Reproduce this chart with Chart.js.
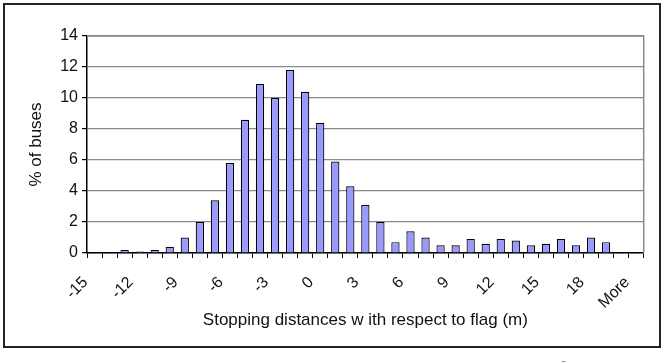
<!DOCTYPE html>
<html>
<head>
<meta charset="utf-8">
<script src="https://cdn.jsdelivr.net/npm/chart.js@4/dist/chart.umd.min.js"></script>
<style>
  html, body { margin: 0; padding: 0; background: #fff; overflow: hidden; }
  #wrap { position: absolute; left: 0; top: 0; width: 665px; height: 347px; }
  #frame {
    position: absolute; left: 3px; top: 3px; width: 654px; height: 341px;
    border: 2px solid #222; pointer-events: none;
  }
  #caption {
    position: absolute; left: 127px; top: 356px; line-height: 1;
    font: italic 22px "Liberation Serif", serif; color: #888; white-space: nowrap;
  }
</style>
</head>
<body>
<div id="wrap"><canvas id="chart" width="665" height="347"></canvas></div>
<div id="frame"></div>
<div id="caption">Figure 6: Bus stopping distances with respect to flag</div>
<script>
// Histogram bins (m), last bin is "More"
const bins = ["-15","-14","-13","-12","-11","-10","-9","-8","-7","-6","-5","-4","-3","-2","-1",
  "0","1","2","3","4","5","6","7","8","9","10","11","12","13","14","15","16","17","18","19","20","More"];

// % of buses per bin
const percentBuses = [0, 0, 0.2, 0.1, 0.2, 0.4, 1.0, 2.0, 3.4, 5.8, 8.6, 10.9, 10.0, 11.8, 10.4,
  8.4, 5.9, 4.3, 3.1, 2.0, 0.7, 1.4, 1.0, 0.5, 0.5, 0.9, 0.6, 0.9, 0.8, 0.5, 0.6, 0.9, 0.5, 1.0, 0.7, 0, 0];

const yTicks = [0, 2, 4, 6, 8, 10, 12, 14];

const FONT = "'Liberation Sans', Arial, sans-serif";

// gray frame on top and right of plot area (Excel style)
const plotFrame = {
  id: "plotFrame",
  beforeDatasetsDraw(chart) {
    const { ctx, chartArea: a } = chart;
    ctx.save();
    ctx.strokeStyle = "#8a8a8a";
    ctx.lineWidth = 1.5;
    ctx.beginPath();
    ctx.moveTo(a.left, a.top);
    ctx.lineTo(a.right, a.top);
    ctx.lineTo(a.right, a.bottom);
    ctx.stroke();
    ctx.restore();
  },
};

new Chart(document.getElementById("chart"), {
  type: "bar",
  data: {
    labels: bins,
    datasets: [{
      data: percentBuses,
      backgroundColor: "#9999ff",
      borderColor: "#000",
      borderWidth: 1.2,
      barPercentage: 0.55,
      categoryPercentage: 1,
    }],
  },
  options: {
    responsive: false,
    animation: false,
    layout: { padding: { left: 26, right: 18, top: 36, bottom: 14 } },
    plugins: { legend: { display: false }, tooltip: { enabled: false } },
    scales: {
      x: {
        offset: true,
        grid: {
          offset: true,
          drawOnChartArea: false,
          drawTicks: true,
          tickLength: 5,
          color: "#000",
        },
        border: { color: "#000", width: 1.5 },
        ticks: {
          autoSkip: false,
          maxRotation: 45,
          minRotation: 45,
          padding: 15,
          labelOffset: -9,
          color: "#111",
          font: { family: FONT, size: 16 },
          callback: (v, i) => (i % 3 === 0 ? bins[i] : ""),
        },
        title: {
          display: true,
          text: "Stopping distances w ith respect to flag (m)",
          color: "#111",
          font: { family: FONT, size: 17 },
          padding: { top: 0, bottom: 2 },
        },
        afterFit: (s) => { s.height = 80; },
      },
      y: {
        min: 0,
        max: 14,
        afterBuildTicks: (s) => { s.ticks = yTicks.map((v) => ({ value: v })); },
        grid: { color: "#8a8a8a", lineWidth: 1.2, tickLength: 5, tickColor: "#000" },
        border: { color: "#000", width: 1.5 },
        ticks: {
          padding: 4,
          color: "#111",
          font: { family: FONT, size: 16 },
        },
        title: {
          display: true,
          text: "% of buses",
          color: "#111",
          font: { family: FONT, size: 17 },
          padding: { top: 0, bottom: 0 },
        },
        afterFit: (s) => { s.width = 61; },
      },
    },
  },
  plugins: [plotFrame],
});
</script>
</body>
</html>
